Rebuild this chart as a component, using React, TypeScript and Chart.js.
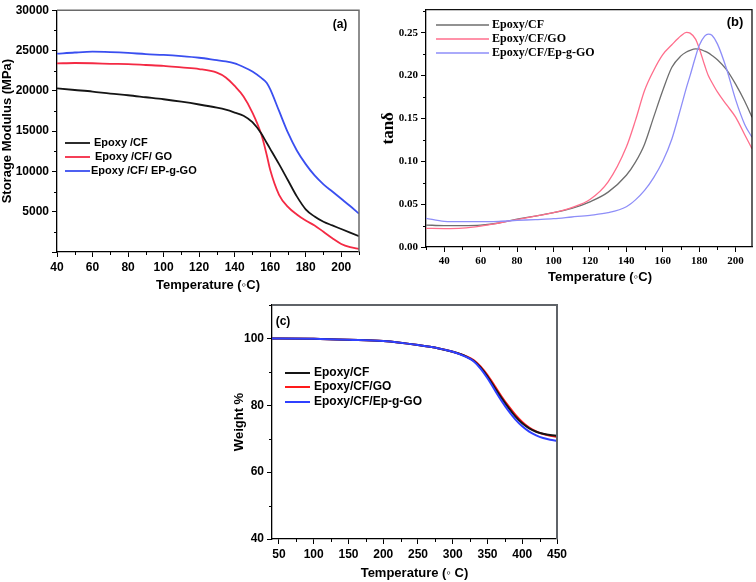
import React, { useEffect, useRef } from 'react';
import { Chart, registerables } from 'chart.js';

Chart.register(...registerables);

// ---------- Panel (a): storage modulus ----------
const tempA = [40, 50, 60, 70, 80, 90, 100, 110, 120, 130, 135, 140, 145, 150, 155, 158, 160, 165, 170, 175, 180, 185, 190, 195, 200, 205, 210];
const modulusCF = [20300, 20100, 19900, 19650, 19450, 19200, 18950, 18650, 18300, 17900, 17650, 17300, 16900, 16100, 14700, 13550, 12800, 10900, 8900, 6900, 5300, 4400, 3750, 3300, 2850, 2400, 1950];
const modulusGO = [23400, 23450, 23420, 23350, 23300, 23200, 23100, 22900, 22700, 22250, 21650, 20600, 19300, 17300, 14600, 12100, 10200, 7100, 5600, 4650, 3900, 3300, 2500, 1700, 1000, 600, 370];
const modulusEpGO = [24600, 24750, 24850, 24800, 24700, 24550, 24450, 24300, 24100, 23800, 23650, 23400, 22950, 22400, 21600, 21000, 20200, 17500, 14800, 12600, 10900, 9500, 8400, 7500, 6600, 5700, 4760];
const labelsA = ['Epoxy /CF', 'Epoxy /CF/ GO', 'Epoxy /CF/ EP-g-GO'];

// ---------- Panel (b): tan delta ----------
const tempB = [30, 40, 50, 60, 70, 80, 90, 100, 110, 120, 130, 140, 145, 150, 155, 160, 165, 170, 173, 175, 178, 180, 183, 185, 187, 190, 195, 200, 205, 209];
const tanCF = [0.0256, 0.025, 0.025, 0.0255, 0.028, 0.0326, 0.036, 0.040, 0.045, 0.0527, 0.064, 0.0837, 0.099, 0.12, 0.1515, 0.1826, 0.2097, 0.223, 0.2275, 0.2295, 0.2312, 0.231, 0.2285, 0.2265, 0.2235, 0.2185, 0.207, 0.19, 0.17, 0.1515];
const tanGO = [0.0217, 0.0215, 0.022, 0.0244, 0.028, 0.032, 0.036, 0.040, 0.046, 0.0554, 0.076, 0.1166, 0.1477, 0.1826, 0.206, 0.2245, 0.236, 0.2465, 0.2504, 0.2495, 0.2426, 0.232, 0.212, 0.2, 0.192, 0.181, 0.166, 0.1515, 0.131, 0.1147];
const tanEpGO = [0.0335, 0.030, 0.0295, 0.0295, 0.030, 0.031, 0.032, 0.033, 0.035, 0.037, 0.040, 0.047, 0.055, 0.066, 0.081, 0.10, 0.126, 0.163, 0.186, 0.2, 0.222, 0.235, 0.246, 0.2485, 0.247, 0.237, 0.208, 0.172, 0.143, 0.128];
const labelsB = ['Epoxy/CF', 'Epoxy/CF/GO', 'Epoxy/CF/Ep-g-GO'];

// ---------- Panel (c): TGA weight ----------
const tempC = [40, 50, 100, 150, 200, 250, 280, 300, 320, 330, 340, 350, 360, 370, 380, 390, 400, 410, 420, 430, 440, 450];
const weightCF = [100, 100, 99.9, 99.6, 99.2, 98.0, 97.0, 96.0, 94.5, 93.3, 91.3, 88.6, 85.4, 82.2, 79.3, 76.7, 74.6, 73.1, 72.1, 71.5, 71.1, 70.9];
const weightGO = [100, 100, 99.9, 99.6, 99.2, 98.0, 97.0, 96.0, 94.6, 93.5, 91.6, 89.0, 85.9, 82.7, 79.8, 77.2, 75.0, 73.3, 72.2, 71.4, 70.9, 70.6];
const weightEpGO = [100, 100, 99.9, 99.6, 99.2, 98.0, 97.0, 96.0, 94.4, 93.2, 91.0, 88.1, 84.7, 81.4, 78.4, 75.8, 73.7, 72.1, 71.0, 70.2, 69.7, 69.4];
const labelsC = ['Epoxy/CF', 'Epoxy/CF/GO', 'Epoxy/CF/Ep-g-GO'];

const SANS = '"Liberation Sans", Arial, sans-serif';
const SERIF = '"Liberation Serif", "Times New Roman", serif';

function isMajor(v: number, step: number) {
  const r = v / step;
  return Math.abs(r - Math.round(r)) < 1e-6;
}

const decorPlugin = {
  id: 'decor',
  afterDraw(chart: any) {
    const o = chart.options.plugins.decor;
    if (!o) return;
    const ctx = chart.ctx;
    const { left, right, top, bottom } = chart.chartArea;
    const xs = chart.scales.x;
    const ys = chart.scales.y;
    ctx.save();
    // top & right frame
    ctx.strokeStyle = o.frameColor;
    ctx.lineWidth = o.frameWidth;
    ctx.beginPath();
    ctx.moveTo(left, top);
    ctx.lineTo(right, top);
    ctx.lineTo(right, bottom);
    ctx.stroke();
    // minor ticks
    ctx.strokeStyle = '#000';
    ctx.lineWidth = 1;
    const start = (min: number, step: number) => Math.ceil(min / step - 1e-9) * step;
    for (let v = start(xs.min, o.xMinor); v <= xs.max + 1e-9; v += o.xMinor) {
      if (isMajor(v, o.xMajor)) continue;
      const px = Math.round(xs.getPixelForValue(v)) + 0.5;
      ctx.beginPath();
      ctx.moveTo(px, bottom);
      ctx.lineTo(px, bottom + o.minorLen);
      ctx.stroke();
    }
    for (let v = start(ys.min, o.yMinor); v <= ys.max + 1e-9; v += o.yMinor) {
      if (isMajor(v, o.yMajor)) continue;
      const py = Math.round(ys.getPixelForValue(v)) + 0.5;
      ctx.beginPath();
      ctx.moveTo(left, py);
      ctx.lineTo(left - o.minorLen, py);
      ctx.stroke();
    }
    // legend
    const lg = o.legend;
    ctx.textBaseline = 'middle';
    ctx.textAlign = 'left';
    ctx.font = lg.font;
    chart.data.datasets.forEach((ds: any, i: number) => {
      const y = lg.y[i];
      ctx.strokeStyle = ds.borderColor;
      ctx.lineWidth = ds.borderWidth;
      ctx.beginPath();
      ctx.moveTo(lg.x0, y);
      ctx.lineTo(lg.x1, y);
      ctx.stroke();
      ctx.fillStyle = '#000';
      ctx.fillText(ds.label, lg.textX[i], y);
    });
    // panel tag
    ctx.textAlign = 'center';
    ctx.font = o.tag.font;
    ctx.fillText(o.tag.text, o.tag.x, o.tag.y);
    // optional custom x title
    if (o.xTitle) {
      ctx.font = o.xTitle.font;
      ctx.fillText(o.xTitle.text, o.xTitle.x, o.xTitle.y);
    }
    ctx.restore();
  },
};

function lineDs(label: string, xs: number[], ys: number[], color: string, width: number, order: number) {
  return {
    label,
    data: xs.map((x, i) => ({ x, y: ys[i] })),
    borderColor: color,
    backgroundColor: color,
    borderWidth: width,
    pointRadius: 0,
    fill: false,
    cubicInterpolationMode: 'monotone' as const,
    order,
  };
}

function axisBase(tickFont: any, major: number, min: number, max: number, fit: (s: any) => void, cb?: (v: number) => string) {
  return {
    type: 'linear' as const,
    min,
    max,
    afterFit: fit,
    grid: { display: true, drawOnChartArea: false, drawTicks: true, tickLength: 5, tickColor: '#000', tickWidth: 1 },
    border: { display: true, color: '#000', width: 1.3 },
    ticks: { stepSize: major, includeBounds: false, autoSkip: false, maxRotation: 0, color: '#000', font: tickFont, padding: 3, callback: cb },
  };
}

function configA() {
  const tickFont = { family: SANS, size: 12, weight: 'bold' };
  const x = axisBase(tickFont, 20, 40, 210, (s) => { s.height = 43; });
  const y = axisBase(tickFont, 5000, 0, 30000, (s) => { s.width = 57; }, (v) => (v === 0 ? '' : String(v)));
  (x as any).title = { display: true, text: 'Temperature (◦C)', color: '#000', font: { family: SANS, size: 13, weight: 'bold' }, padding: { top: 0, bottom: 2 } };
  (y as any).title = { display: true, text: 'Storage Modulus (MPa)', color: '#000', font: { family: SANS, size: 13, weight: 'bold' }, padding: { top: 0, bottom: 0 } };
  return {
    type: 'line' as const,
    data: {
      datasets: [
        lineDs(labelsA[0], tempA, modulusCF, '#151515', 1.8, 1),
        lineDs(labelsA[1], tempA, modulusGO, '#f42a44', 1.8, 2),
        lineDs(labelsA[2], tempA, modulusEpGO, '#3a4ff0', 1.8, 0),
      ],
    },
    options: {
      responsive: false,
      animation: false as const,
      layout: { padding: { top: 7, right: 19, left: 0, bottom: 0 } },
      scales: { x, y },
      plugins: {
        legend: { display: false },
        tooltip: { enabled: false },
        decor: {
          frameColor: '#6a6a6a', frameWidth: 1.5,
          xMinor: 10, xMajor: 20, yMinor: 2500, yMajor: 5000, minorLen: 3,
          legend: { font: `bold 11px ${SANS}`, x0: 65, x1: 90, y: [143, 157, 171], textX: [94, 95, 91] },
          tag: { text: '(a)', font: `bold 12px ${SANS}`, x: 340, y: 25 },
        },
      },
    },
    plugins: [decorPlugin],
  };
}

function configB() {
  const tickFont = { family: SERIF, size: 11, weight: 'bold' };
  const x = axisBase(tickFont, 20, 30, 209, (s) => { s.height = 43; });
  const y = axisBase(tickFont, 0.05, 0, 0.277, (s) => { s.width = 48; }, (v) => v.toFixed(2));
  (y as any).title = { display: true, text: 'tanδ', color: '#000', font: { family: SERIF, size: 17, weight: 'bold' }, padding: { top: 0, bottom: 0 } };
  return {
    type: 'line' as const,
    data: {
      datasets: [
        lineDs(labelsB[0], tempB, tanCF, '#6e6e6e', 1.3, 2),
        lineDs(labelsB[1], tempB, tanGO, '#ff6e8c', 1.3, 1),
        lineDs(labelsB[2], tempB, tanEpGO, '#8e8ef8', 1.3, 0),
      ],
    },
    options: {
      responsive: false,
      animation: false as const,
      layout: { padding: { top: 9, right: 4, left: 0, bottom: 0 } },
      scales: { x, y },
      plugins: {
        legend: { display: false },
        tooltip: { enabled: false },
        decor: {
          frameColor: '#111', frameWidth: 1.3,
          xMinor: 10, xMajor: 20, yMinor: 0.025, yMajor: 0.05, minorLen: 3,
          legend: { font: `bold 12px ${SERIF}`, x0: 58, x1: 111, y: [25, 39, 53], textX: [114, 114, 114] },
          tag: { text: '(b)', font: `bold 13px ${SANS}`, x: 357, y: 22 },
          xTitle: { text: 'Temperature (◦C)', font: `bold 13px ${SANS}`, x: 222, y: 277 },
        },
      },
    },
    plugins: [decorPlugin],
  };
}

function configC() {
  const tickFont = { family: SANS, size: 12, weight: 'bold' };
  const x = axisBase(tickFont, 50, 40, 450, (s) => { s.height = 43; });
  const y = axisBase(tickFont, 20, 40, 110, (s) => { s.width = 82; });
  (x as any).title = { display: true, text: 'Temperature (◦ C)', color: '#000', font: { family: SANS, size: 13, weight: 'bold' }, padding: { top: 0, bottom: 1 } };
  (y as any).title = { display: true, text: 'Weight %', color: '#000', font: { family: SANS, size: 13, weight: 'bold' }, padding: { top: 42, bottom: 0 } };
  return {
    type: 'line' as const,
    data: {
      datasets: [
        lineDs(labelsC[0], tempC, weightCF, '#151515', 2, 1),
        lineDs(labelsC[1], tempC, weightGO, '#ff1a1a', 2, 2),
        lineDs(labelsC[2], tempC, weightEpGO, '#2f40ff', 2, 0),
      ],
    },
    options: {
      responsive: false,
      animation: false as const,
      layout: { padding: { top: 15, right: 33, left: 0, bottom: 0 } },
      scales: { x, y },
      plugins: {
        legend: { display: false },
        tooltip: { enabled: false },
        decor: {
          frameColor: '#5f6368', frameWidth: 2,
          xMinor: 25, xMajor: 50, yMinor: 10, yMajor: 20, minorLen: 3,
          legend: { font: `bold 12px ${SANS}`, x0: 95, x1: 120, y: [83, 97, 112], textX: [124, 124, 124] },
          tag: { text: '(c)', font: `bold 12px ${SANS}`, x: 93, y: 32 },
        },
      },
    },
    plugins: [decorPlugin],
  };
}

function Panel({ left, top, width, height, make }: { left: number; top: number; width: number; height: number; make: () => any }) {
  const ref = useRef<HTMLCanvasElement>(null);
  useEffect(() => {
    const chart = new Chart(ref.current as HTMLCanvasElement, make());
    return () => chart.destroy();
  }, [make]);
  return (
    <canvas
      ref={ref}
      width={width}
      height={height}
      style={{ position: 'absolute', left, top, width, height, display: 'block' }}
    />
  );
}

export default function App() {
  return (
    <div style={{ position: 'absolute', left: 0, top: 0, width: 756, height: 582, background: '#fff', overflow: 'hidden' }}>
      <Panel left={0} top={0} width={378} height={295} make={configA} />
      <Panel left={378} top={0} width={378} height={290} make={configB} />
      <Panel left={190} top={290} width={400} height={292} make={configC} />
    </div>
  );
}
